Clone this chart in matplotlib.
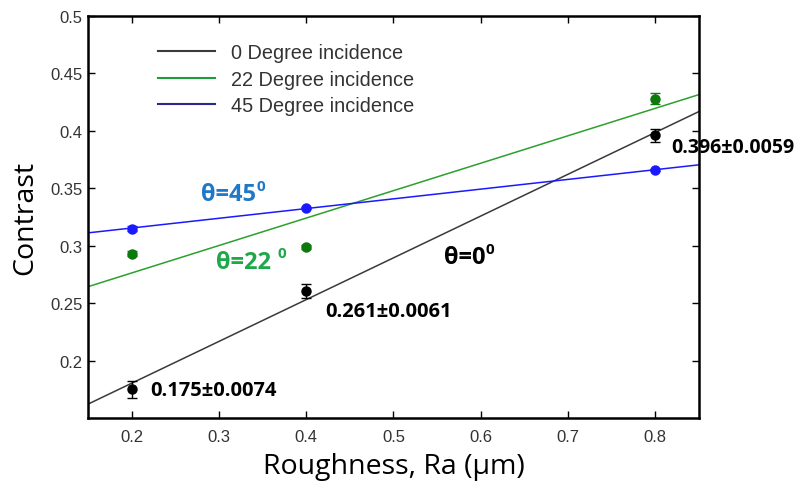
import numpy as np
import matplotlib
matplotlib.use('Agg')
import matplotlib.pyplot as plt

# roughness (um) and measured contrast
ra = [0.2, 0.4, 0.8]
c_0 = [0.175, 0.261, 0.396]
e_0 = [0.0074, 0.0061, 0.0059]
c_22 = [0.293, 0.299, 0.428]
e_22 = [0.002, 0.002, 0.005]
c_45 = [0.315, 0.333, 0.366]
e_45 = [0.002, 0.001, 0.001]

labels = ['0 Degree incidence', '22 Degree incidence', '45 Degree incidence']
annot = ['0.175\u00b10.0074', '0.261\u00b10.0061', '0.396\u00b10.0059']

plt.rcParams['font.family'] = ['Liberation Sans', 'DejaVu Sans']
calib = ['Open Sans', 'DejaVu Sans']

fig = plt.figure(figsize=(7.97, 4.89), dpi=100)
ax = fig.add_axes([0.1104, 0.1431, 0.7666, 0.8221])

xx = np.array([0.15, 0.85])
series = [(c_0, e_0, '#3a3a3a', 'black', '#3a3a3a'),
          (c_22, e_22, '#2ca02c', '#0b7a0b', '#1e9e3a'),
          (c_45, e_45, '#1a1aff', '#1a1aff', '#2a2a8a')]
handles = []
for (yv, ev, lc, mc, legc), lab in zip(series, labels):
    k, b = np.polyfit(ra, yv, 1)   # regression line
    ax.plot(xx, k * xx + b, color=lc, lw=1.1)
    ax.errorbar(ra, yv, yerr=ev, fmt='o', color=mc, ms=6.5, capsize=3.6,
                elinewidth=1, capthick=1)
    h, = ax.plot([], [], color=legc, lw=1.5, label=lab)
    handles.append(h)

leg = ax.legend(handles=handles, loc='upper left', bbox_to_anchor=(0.115, 0.932),
                frameon=False, fontsize=14.3, handlelength=2.85, handletextpad=0.8,
                labelspacing=0.36, borderpad=0, borderaxespad=0)
for t in leg.get_texts():
    t.set_color('#333333')

ax.set_xlim(0.15, 0.85)
ax.set_ylim(0.15, 0.5)
ax.set_xticks([0.2, 0.3, 0.4, 0.5, 0.6, 0.7, 0.8])
ax.set_yticks([0.2, 0.25, 0.3, 0.35, 0.4, 0.45, 0.5])
ax.set_xticklabels(['0.2', '0.3', '0.4', '0.5', '0.6', '0.7', '0.8'])
ax.set_yticklabels(['0.2', '0.25', '0.3', '0.35', '0.4', '0.45', '0.5'])
ax.tick_params(direction='in', top=True, right=True, length=5, width=1,
               labelsize=12, labelcolor='#333333')
ax.tick_params(axis='x', pad=8)
ax.tick_params(axis='y', pad=4)
for s in ax.spines.values():
    s.set_linewidth(1.8)

ax.set_xlabel('Roughness, Ra (\u03bcm)', fontsize=20.5, family=calib, labelpad=6)
ax.set_ylabel('Contrast', fontsize=20.5, family=calib, labelpad=8)

bold = dict(fontweight='bold', fontsize=14.5, family=calib, va='center', ha='left')
ax.text(0.221, 0.1748, annot[0], **bold)
ax.text(0.4224, 0.2435, annot[1], **bold)
ax.text(0.818, 0.386, annot[2], clip_on=False,
        **dict(bold, fontsize=14.0))

# theta labels with superscript 0
theta = [(0.28, 0.345, '\u03b8=45', '#1f78c8'),
         (0.297, 0.286, '\u03b8=22 ', '#1fa84a'),
         (0.558, 0.290, '\u03b8=0', 'black')]
for tx, ty, s, col in theta:
    t = ax.text(tx, ty, s, color=col, fontweight='bold', fontsize=17,
                family=calib, va='center', ha='left')
    ax.annotate('0', xy=(1, 0.85), xycoords=t, color=col, fontweight='bold',
                fontsize=11, family=calib, va='center', ha='left')

fig.savefig('out.png', dpi=100)
